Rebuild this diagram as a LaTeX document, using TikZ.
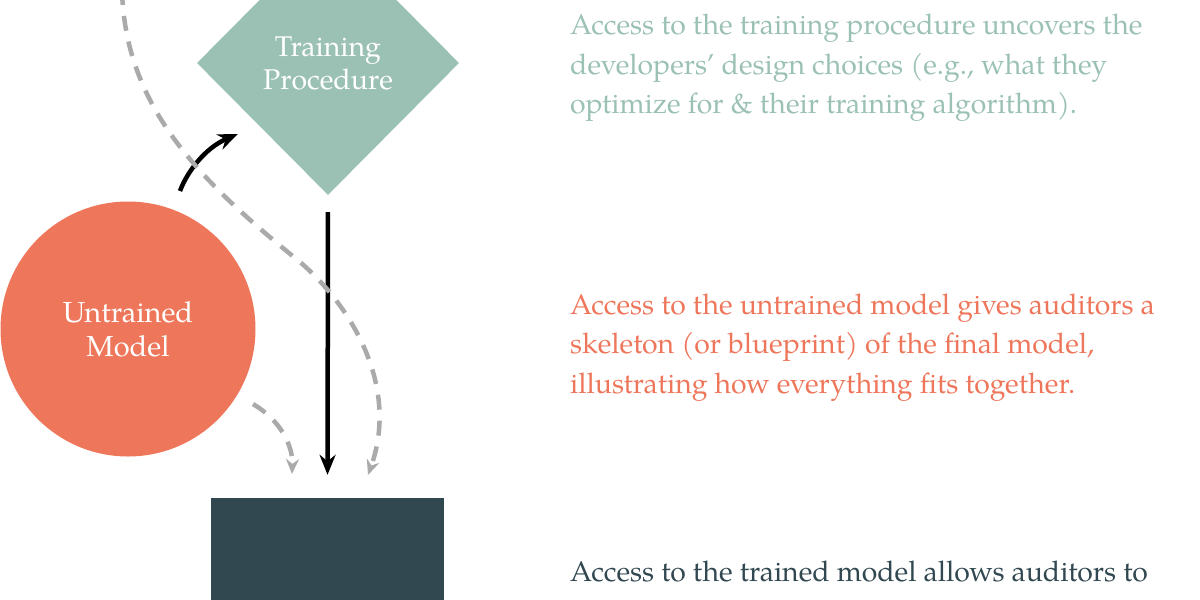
\documentclass[tikz,border=0pt]{standalone}
\usepackage{fontspec}
\setmainfont{TeX Gyre Pagella}
\usetikzlibrary{positioning,shapes.geometric,arrows.meta}
\definecolor{procGreen}{RGB}{155,193,180}
\definecolor{untrainedOrange}{RGB}{238,118,90}
\definecolor{trainedSlate}{RGB}{49,72,81}
\definecolor{hintGray}{RGB}{170,170,170}
\tikzset{
  procNode/.style={diamond, fill=procGreen, text=white, inner sep=0pt, minimum width=262pt, minimum height=264pt, align=center, font=\fontsize{28.5}{33}\selectfont},
  modelNode/.style={circle, fill=untrainedOrange, text=white, inner sep=0pt, minimum size=255pt, align=center, font=\fontsize{29}{34}\selectfont},
  trainedNode/.style={rectangle, fill=trainedSlate, inner sep=0pt, minimum width=233pt, minimum height=124pt},
  note/.style={anchor=north west, inner sep=0pt, align=left, font=\fontsize{28.4}{39.5}\selectfont},
%  flow arrows
  flow/.style={-{Stealth[length=20pt,width=16pt]}, line width=4.5pt},
  hint/.style={-{Stealth[length=15pt,width=13pt]}, line width=4.5pt, draw=hintGray, dash pattern=on 15pt off 11pt}
}
\begin{document}
\begin{tikzpicture}[x=1pt, y=-1pt]
  \useasboundingbox (0,0) rectangle (1200,600);
  \clip (0,0) rectangle (1200,600);
  \node [procNode] (proc) at (328,63) {Training\\Procedure};
  \node [modelNode] (untrained) at (128,329) {Untrained\\Model};
  \node [trainedNode] (trained) at (327.5,560) {};
  \node [note, text=procGreen] (procText) at (570,14)
    {Access to the training procedure uncovers the\\developers’ design choices (e.g., what they\\optimize for \& their training algorithm).};
  \node [note, text=untrainedOrange] (untrainedText) at (570,293.5)
    {Access to the untrained model gives auditors a\\skeleton (or blueprint) of the final model,\\illustrating how everything fits together.};
  \node [note, text=trainedSlate] (trainedText) at (570,561)
    {Access to the trained model allows auditors to};
  \coordinate (liftFrom) at (180,191);
  \coordinate (liftTo) at (238,134);
  \coordinate (hintTop) at (122,-10);
  \coordinate (hintEndR) at (368,475);
  \coordinate (hintFrom) at (253,404);
  \coordinate (hintEndL) at (292,474);
  \draw [flow, shorten <=17pt, shorten >=23pt] (proc.south) -- (trained.north);
  \draw [flow] (liftFrom) .. controls (187,172) and (205,148) .. (liftTo);
  \draw [hint] (hintTop) .. controls (125,110) and (205,185) .. (300,262)
    .. controls (350,305) and (400,385) .. (hintEndR);
  \draw [hint] (hintFrom) .. controls (280,420) and (293,445) .. (hintEndL);
\end{tikzpicture}
\end{document}
